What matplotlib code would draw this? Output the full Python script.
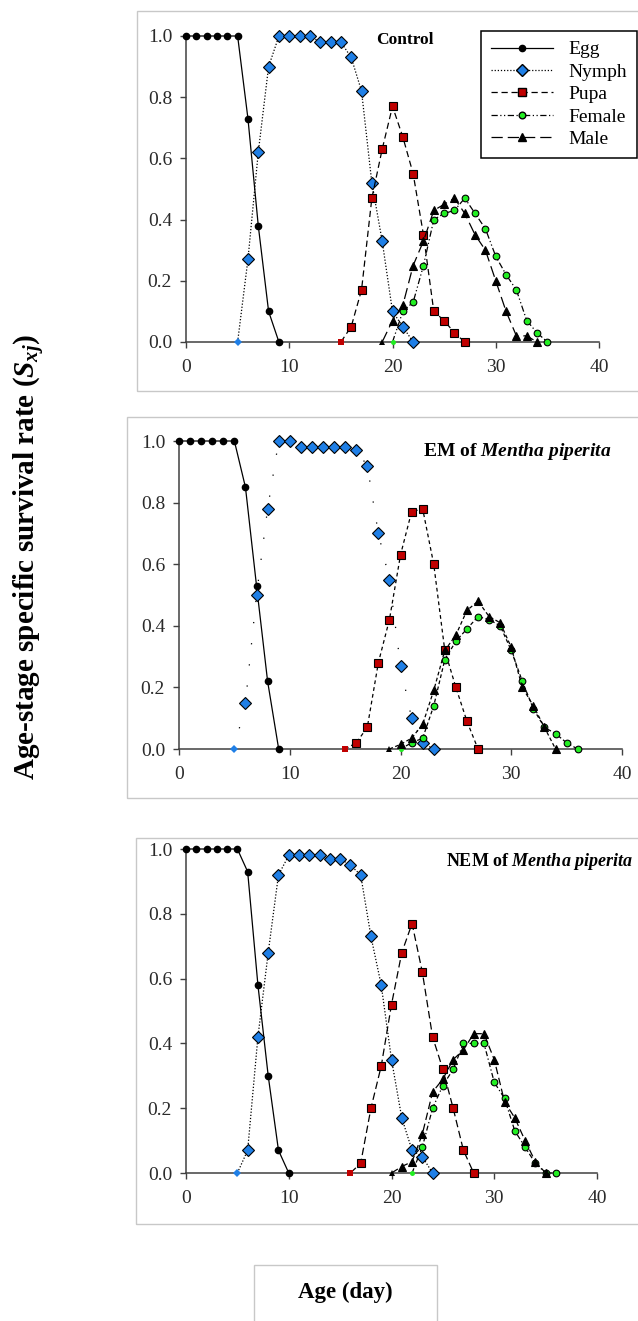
import numpy as np
import matplotlib
matplotlib.use('Agg')
from matplotlib import pyplot as plt
from matplotlib.lines import Line2D
from matplotlib.patches import Rectangle

plt.rcParams['font.family'] = ['Liberation Serif', 'DejaVu Serif']
plt.rcParams['mathtext.fontset'] = 'custom'
plt.rcParams['mathtext.rm'] = 'Liberation Serif:bold'
plt.rcParams['mathtext.it'] = 'Liberation Serif:italic:bold'
plt.rcParams['mathtext.bf'] = 'Liberation Serif:bold'

stages = ['Egg', 'Nymph', 'Pupa', 'Female', 'Male']

# control
ctrl_start = [0, 5, 15, 20, 19]
ctrl_egg = [1.0, 1.0, 1.0, 1.0, 1.0, 1.0, 0.73, 0.38, 0.10, 0.0]
ctrl_nymph = [0.0, 0.27, 0.62, 0.90, 1.0, 1.0, 1.0, 1.0, 0.98, 0.98, 0.98, 0.93, 0.82, 0.52, 0.33, 0.10, 0.05, 0.0]
ctrl_pupa = [0.0, 0.05, 0.17, 0.47, 0.63, 0.77, 0.67, 0.55, 0.35, 0.10, 0.07, 0.03, 0.0]
ctrl_female = [0.0, 0.10, 0.13, 0.25, 0.40, 0.42, 0.43, 0.47, 0.42, 0.37, 0.28, 0.22, 0.17, 0.07, 0.03, 0.0]
ctrl_male = [0.0, 0.07, 0.12, 0.25, 0.33, 0.43, 0.45, 0.47, 0.42, 0.35, 0.30, 0.20, 0.10, 0.02, 0.02, 0.0]

# EM of Mentha piperita
em_start = [0, 5, 15, 20, 19]
em_egg = [1.0, 1.0, 1.0, 1.0, 1.0, 1.0, 0.85, 0.53, 0.22, 0.0]
em_nymph = [0.0, 0.15, 0.50, 0.78, 1.0, 1.0, 0.98, 0.98, 0.98, 0.98, 0.98, 0.97, 0.92, 0.70, 0.55, 0.27, 0.10, 0.02, 0.0]
em_pupa = [0.0, 0.02, 0.07, 0.28, 0.42, 0.63, 0.77, 0.78, 0.60, 0.32, 0.20, 0.09, 0.0]
em_female = [0.0, 0.02, 0.035, 0.14, 0.29, 0.35, 0.39, 0.43, 0.42, 0.40, 0.32, 0.22, 0.13, 0.07, 0.05, 0.02, 0.0]
em_male = [0.0, 0.015, 0.035, 0.08, 0.19, 0.32, 0.37, 0.45, 0.48, 0.43, 0.41, 0.33, 0.20, 0.14, 0.07, 0.0]

# NEM of Mentha piperita
nem_start = [0, 5, 16, 22, 20]
nem_egg = [1.0, 1.0, 1.0, 1.0, 1.0, 1.0, 0.93, 0.58, 0.30, 0.07, 0.0]
nem_nymph = [0.0, 0.07, 0.42, 0.68, 0.92, 0.98, 0.98, 0.98, 0.98, 0.97, 0.97, 0.95, 0.92, 0.73, 0.58, 0.35, 0.17, 0.07, 0.05, 0.0]
nem_pupa = [0.0, 0.03, 0.20, 0.33, 0.52, 0.68, 0.77, 0.62, 0.42, 0.32, 0.20, 0.07, 0.0]
nem_female = [0.0, 0.08, 0.20, 0.27, 0.32, 0.40, 0.40, 0.40, 0.28, 0.23, 0.13, 0.08, 0.03, 0.0, 0.0]
nem_male = [0.0, 0.02, 0.035, 0.12, 0.25, 0.29, 0.35, 0.38, 0.43, 0.43, 0.35, 0.22, 0.17, 0.10, 0.035, 0.0]

colors = ['black', '#1f7fe6', '#c00000', '#22ee22', 'black']
markers = ['o', 'D', 's', 'o', '^']
sizes = [4.5, 6, 6, 4.8, 5.5]

ctrl_ls = ['-', (0, (1, 1.5)), (0, (5, 3)), (0, (5, 2, 1, 2, 1, 2)), (0, (9, 4))]
em_ls = ['-', (0, (1, 16)), (0, (3, 2.5)), (0, (3, 2)), (0, (3, 2))]
nem_ls = ['-', (0, (1, 1.5)), (0, (6, 3)), (0, (4, 2, 1, 2)), (0, (6, 3))]

W, H = 638, 1321
fig = plt.figure(figsize=(W / 100, H / 100), dpi=100)


def box(x0, y0, x1, y1, **kw):
    fig.patches.append(Rectangle((x0 / W, 1 - y1 / H), (x1 - x0) / W, (y1 - y0) / H,
                                 transform=fig.transFigure, fill=False, **kw))


def panel(px0, px1, py1, py0, starts, series, styles):
    ax = fig.add_axes([px0 / W, 1 - py0 / H, (px1 - px0) / W, (py0 - py1) / H])
    for i in range(5):
        vals = series[i]
        x = np.arange(starts[i], starts[i] + len(vals))
        if i == 0:
            ax.plot(x, vals, ls=styles[i], color='black', lw=0.9, marker=markers[i], ms=sizes[i],
                    mfc=colors[i], mec='black', clip_on=False, zorder=3)
        else:
            ax.plot(x, vals, ls=styles[i], color='black', lw=0.9, marker=markers[i], ms=sizes[i],
                    mfc=colors[i], mec='black', mew=0.8, markevery=list(range(1, len(vals))),
                    clip_on=False, zorder=3 + i)
            ax.plot(x[0], vals[0], ls='none', marker=markers[i], ms=sizes[i] * 0.75,
                    color=colors[i], mew=0, clip_on=False, zorder=3 + i)
    ax.set_xlim(0, 40)
    ax.set_ylim(0, 1)
    ax.set_xticks([0, 10, 20, 30, 40])
    ax.set_yticks([0, 0.2, 0.4, 0.6, 0.8, 1.0])
    ax.set_yticklabels(['0.0', '0.2', '0.4', '0.6', '0.8', '1.0'])
    for s in ['top', 'right']:
        ax.spines[s].set_visible(False)
    for s in ['left', 'bottom']:
        ax.spines[s].set_color('#404040')
        ax.spines[s].set_linewidth(1.1)
    ax.tick_params(direction='out', length=4, width=1, color='#404040',
                   labelsize=14, labelcolor='#2a2a2a')
    ax.tick_params(axis='y', pad=6)
    ax.tick_params(axis='x', pad=8)
    ax.patch.set_visible(False)
    return ax


# panel frames
box(137, 11, 660, 391, lw=1, edgecolor='#c8c8c8')
box(127, 417, 660, 798, lw=1, edgecolor='#c8c8c8')
box(136, 838, 660, 1224, lw=1, edgecolor='#c8c8c8')
box(254, 1265, 437, 1340, lw=1, edgecolor='#c8c8c8')

ax1 = panel(186, 599, 36, 342, ctrl_start,
            [ctrl_egg, ctrl_nymph, ctrl_pupa, ctrl_female, ctrl_male], ctrl_ls)
ax2 = panel(179, 622, 441, 749, em_start,
            [em_egg, em_nymph, em_pupa, em_female, em_male], em_ls)
ax3 = panel(186, 597, 849, 1173, nem_start,
            [nem_egg, nem_nymph, nem_pupa, nem_female, nem_male], nem_ls)

fig.text(405 / W, 1 - 40 / H, 'Control', ha='center', va='center', fontsize=12.5, weight='bold')
fig.text(423 / W, 1 - 451 / H, r'EM of $Mentha\ piperita$', ha='left', va='center',
         fontsize=14, weight='bold')
fig.text(446 / W, 1 - 862 / H, r'NEM of $Mentha\ piperita$', ha='left', va='center',
         fontsize=13, weight='bold')

handles = []
for i in range(5):
    handles.append(Line2D([], [], ls=ctrl_ls[i], color='black', lw=0.9, marker=markers[i],
                          ms=sizes[i], mfc=colors[i], mec='black'))
leg = ax1.legend(handles, stages, loc='upper left', bbox_to_anchor=(481 / W, 1 - 31 / H),
                 bbox_transform=fig.transFigure, fancybox=False, framealpha=1,
                 edgecolor='black', fontsize=14, handlelength=3.2, handletextpad=0.8,
                 labelspacing=0.25, borderpad=0.5, borderaxespad=0)
leg.get_frame().set_linewidth(1.1)

fig.text(30 / W, 1 - 557 / H, r'Age-stage specific survival rate ($S_{xj}$)', rotation=90,
         ha='center', va='center', fontsize=21, weight='bold')
fig.text(345 / W, 1 - 1292 / H, 'Age (day)', ha='center', va='center', fontsize=16.5, weight='bold')

fig.savefig('out.png', dpi=100)
